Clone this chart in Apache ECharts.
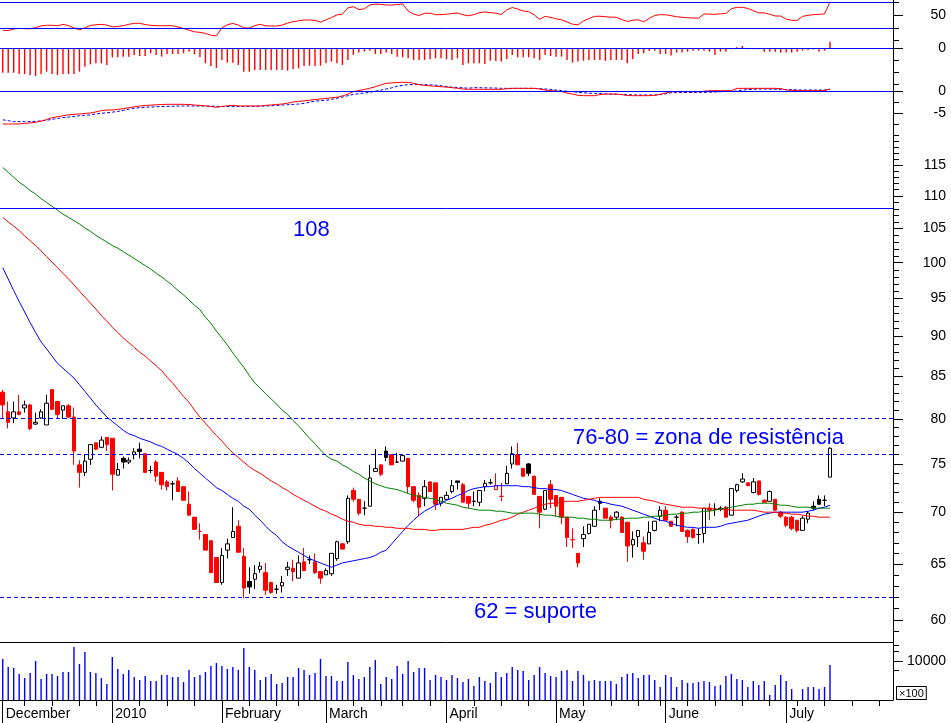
<!DOCTYPE html>
<html><head><meta charset="utf-8">
<script src="https://cdn.jsdelivr.net/npm/echarts@6/dist/echarts.min.js"></script>
<style>html,body{margin:0;padding:0;background:#fff}#c{width:951px;height:723px}</style>
</head><body><div id="c"></div>
<script>
// ---------- axis slots / tick labels ----------
const slotCount = 163;
const monthStartIdx = [0, 20, 40, 59, 81, 101, 121, 143];
const monthLabels = ['December', '2010', 'February', 'March', 'April', 'May', 'June', 'July'];
const weekTickIdx = [4, 9, 14, 17, 25, 30, 35, 45, 50, 54, 64, 69, 73, 78, 86, 91, 96, 106, 111, 116, 120, 125, 130, 135, 140, 145, 150, 155, 160];
const priceTicks = [60, 65, 70, 75, 80, 85, 90, 95, 100, 105, 110, 115];
const rsiLabels = [50], rsiMinor = [70, 30];
const histLabels = [0], histMinor = [1.38, -2, -4, -6];
const macdLabels = [0, -5], macdMinor = [-2.5, -7.5];
const volLabels = [10000], volMinor = [5000, 20000, 30000];
const rsiLevels = [70, 30];
const zeroLevel = [0];
const supportResistLevels = [62, 76, 80];
const targetLevel = [108];

// ---------- price data ----------
const open = [83.1,80.8,80.1,80.8,81.25,81.6,79.4,80.1,79.3,83.4,
82.0,81.0,81.5,80.2,74.9,74.1,75.5,77.3,76.8,77.9,
77.8,73.8,75.6,75.2,76.0,76.6,76.1,74.3,75.2,74.1,
73.1,72.9,73.2,72.6,70.8,69.5,68.1,67.8,67.2,65.6,
63.3,66.3,67.5,68.6,65.7,63.4,63.6,64.5,64.2,63.3,
62.7,63.0,64.5,64.6,63.7,65.2,65.4,65.2,64.3,64.0,
64.1,65.5,66.9,67.1,72.2,71.3,70.4,70.6,74.2,74.9,
76.4,76.0,75.2,75.3,75.6,72.6,71.7,71.4,73.1,73.0,
70.9,71.3,72.1,73.2,72.8,71.6,71.1,71.0,72.6,73.0,
72.3,71.6,72.9,75.0,76.0,74.5,75.0,73.7,71.6,70.3,
72.8,71.7,71.5,69.5,67.3,66.0,67.4,67.9,68.6,71.1,
70.4,69.5,69.5,69.5,69.0,66.8,67.6,67.0,66.9,68.2,
69.6,70.2,69.1,69.5,70.0,68.2,68.3,67.8,67.9,70.4,
70.3,70.4,70.5,69.7,72.2,73.1,73.0,72.0,73.2,71.2,
71.1,71.3,70.0,69.5,69.5,69.2,68.2,69.3,70.6,71.3,
71.2,73.6];
const high = [83.4,82.0,82.0,82.8,82.1,81.7,80.7,81.1,82.8,83.5,
82.1,81.5,81.7,81.3,75.4,76.0,77.1,77.3,78.0,77.9,
77.8,75.1,75.8,75.7,76.7,77.3,76.1,74.8,75.4,74.1,
73.3,73.2,73.6,72.6,72.1,69.5,68.9,67.8,67.2,65.6,
66.5,67.4,70.5,69.2,66.5,64.7,64.9,65.2,65.1,63.4,
63.1,63.9,65.2,65.4,65.8,66.5,65.8,66.0,64.3,64.6,
66.0,67.2,67.0,71.7,72.5,71.3,71.1,74.9,76.6,74.9,
76.9,76.0,76.2,76.0,75.6,72.6,72.0,73.3,73.1,73.0,
71.5,72.1,73.3,73.2,73.0,71.6,72.1,72.2,73.3,73.4,
74.0,73.0,74.8,76.9,77.3,74.6,75.1,73.7,71.6,72.2,
73.3,71.7,71.5,69.5,68.4,66.0,68.6,68.8,70.6,71.4,
70.4,69.7,70.1,69.6,69.0,68.1,68.2,67.6,69.1,69.1,
70.6,70.6,69.1,69.7,70.1,68.3,68.4,68.4,70.4,70.9,
70.9,70.6,70.6,72.4,72.9,74.0,73.0,73.5,73.2,71.3,
72.2,71.3,70.1,69.6,69.6,69.2,69.6,70.1,71.1,71.7,
71.7,76.8];
const low = [80.0,78.9,79.5,80.4,80.7,78.7,79.3,80.0,79.3,81.0,
80.1,80.0,80.1,74.9,72.5,73.7,74.9,76.5,76.8,76.4,
72.2,73.8,74.5,75.0,75.5,75.6,74.1,74.0,73.1,72.3,
72.2,71.2,72.1,71.2,69.7,68.3,67.3,66.3,64.2,63.3,
63.1,65.5,67.5,66.1,61.9,62.3,62.7,64.2,62.2,62.3,
62.3,62.4,63.9,63.4,63.7,64.4,65.0,64.1,63.2,64.0,
63.9,65.3,66.4,66.9,71.06,69.7,69.7,70.6,74.2,73.7,
75.3,74.9,75.1,75.3,71.9,71.0,69.6,70.6,72.1,70.2,
70.6,71.2,71.9,72.3,71.0,70.4,70.6,70.6,72.1,72.8,
72.3,71.1,72.9,74.5,74.9,73.6,73.7,71.8,68.4,70.2,
70.4,69.6,68.8,66.6,66.5,64.7,66.6,67.8,68.6,70.2,
69.4,68.4,69.2,68.0,65.2,65.6,66.6,65.4,66.9,68.1,
69.1,69.2,68.6,68.6,68.1,67.0,67.4,66.9,67.0,69.2,
69.6,70.1,69.5,69.7,72.0,73.0,72.7,71.9,71.7,71.0,
71.1,70.1,69.4,68.5,68.2,68.0,68.2,68.9,70.2,70.8,
70.6,73.6];
const close = [81.6,79.6,80.8,80.5,81.6,78.9,79.6,80.8,81.8,81.1,
80.5,81.5,80.2,76.4,74.1,75.3,77.1,76.6,77.6,77.1,
73.9,74.4,75.2,75.4,76.3,76.35,74.1,74.3,73.7,72.8,
72.6,72.9,72.1,71.2,69.7,68.3,68.1,66.3,64.2,63.3,
65.8,66.9,68.1,66.1,62.8,62.9,64.1,64.8,62.6,62.4,
62.7,63.3,64.7,64.3,65.1,64.4,65.4,64.2,63.7,64.4,
66.0,67.1,66.4,71.4,71.3,69.9,70.4,73.5,74.5,73.9,
75.7,74.9,75.2,75.9,72.6,71.2,70.5,72.6,72.1,70.8,
71.5,71.7,72.7,73.05,71.0,70.9,71.1,72.2,72.95,73.0,
72.7,71.6,74.0,76.1,74.9,73.7,74.0,71.8,70.0,72.2,
71.3,70.6,69.5,67.5,67.3,65.1,67.8,68.8,70.2,70.9,
69.4,69.2,70.0,68.0,66.7,67.3,68.2,66.2,68.0,69.1,
70.2,69.2,68.6,69.5,68.1,67.6,67.5,67.8,70.4,70.2,
70.3,70.3,69.5,72.4,72.8,73.4,72.7,73.1,71.8,71.0,
72.1,70.2,69.6,68.7,68.4,68.2,69.4,69.9,70.4,70.8,
71.2,76.7];
// volume, in hundreds of shares (null = no bar)
const volume = [11540,6510,6065,3950,2970,4240,10000,2765,3950,3950,
3425,4560,4560,27180,8070,19020,4560,4240,2970,1930,
13310,5650,3950,5260,3190,2574,3425,2400,2400,3680,
3680,3190,3190,2230,5260,3190,3680,4560,7000,8670,
7000,5650,6510,5260,25310,6510,5260,2574,3190,3950,
1930,2080,3190,3190,6065,5260,3680,4240,11540,3425,
3425,2400,2400,9310,3680,2765,3190,6510,10740,1930,
3190,2765,7000,3950,10000,4560,6065,6065,2574,3680,
3190,2574,3680,2970,2230,2765,1680,3190,2400,2080,
4560,3190,4240,6510,5260,4900,2574,3680,6510,4240,
3425,3190,4900,5260,2400,4900,3680,2400,2574,2400,
2400,2400,1930,3190,3950,4240,2970,3680,3680,2574,
1560,3680,3190,1560,2574,2080,2080,2230,2400,2230,
1680,1800,3425,3950,2765,2574,1560,2400,1800,2400,
880,1800,3680,2400,1350,null,1350,1560,1560,1350,
1560,7515];
// moving averages
const maBlue = [99.3,97.7,96.1,94.6,93.2,91.8,90.5,89.3,88.4,87.5,
86.6,86.0,85.4,84.8,84.0,83.2,82.4,81.6,80.9,80.2,
79.7,79.2,78.7,78.3,78.1,77.8,77.6,77.4,77.1,76.9,
76.6,76.3,76.0,75.6,75.1,74.5,74.0,73.5,73.0,72.5,
72.2,71.8,71.4,71.1,70.6,70.3,69.7,69.2,68.6,68.1,
67.7,67.1,66.7,66.4,66.1,65.8,65.5,65.3,65.1,64.9,
64.7,64.9,65.1,65.2,65.3,65.4,65.5,65.6,65.8,66.1,
66.3,66.9,67.5,68.1,68.7,69.2,69.7,70.1,70.4,70.7,
70.9,71.2,71.4,71.7,71.9,72.2,72.4,72.5,72.6,72.6,
72.7,72.7,72.7,72.7,72.7,72.6,72.6,72.5,72.4,72.4,
72.3,72.3,72.2,72.0,71.8,71.6,71.4,71.3,71.2,71.0,
70.96,70.8,70.7,70.6,70.4,70.2,70.0,69.8,69.6,69.4,
69.2,69.1,68.9,68.7,68.6,68.5,68.5,68.4,68.5,68.5,
68.5,68.6,68.8,68.9,69.0,69.1,69.2,69.4,69.6,69.8,
69.9,70.0,70.0,70.0,70.0,70.0,70.0,70.1,70.2,70.4,
70.5,70.7];
const maRed = [106.7,106.0,105.4,104.7,103.9,103.2,102.5,101.7,100.9,100.1,
99.3,98.5,97.7,96.9,96.0,95.2,94.4,93.6,92.7,92.0,
91.2,90.5,89.8,89.2,88.6,88.0,87.5,86.9,86.3,85.7,
84.9,84.2,83.4,82.6,81.9,81.0,80.2,79.5,78.8,78.1,
77.5,76.8,76.2,75.7,75.2,74.7,74.3,74.0,73.6,73.2,
72.9,72.5,72.2,71.8,71.5,71.2,70.9,70.6,70.3,70.1,
69.8,69.6,69.3,69.1,69.0,68.8,68.7,68.7,68.6,68.6,
68.5,68.5,68.4,68.4,68.4,68.3,68.3,68.3,68.2,68.2,
68.3,68.3,68.3,68.3,68.3,68.4,68.5,68.5,68.7,68.8,
69.0,69.2,69.3,69.5,69.8,70.0,70.2,70.4,70.6,70.8,
70.9,70.9,71.0,71.1,71.1,71.1,71.2,71.3,71.4,71.5,
71.5,71.5,71.5,71.5,71.5,71.5,71.5,71.3,71.2,71.1,
70.9,70.8,70.7,70.6,70.5,70.5,70.5,70.4,70.4,70.4,
70.3,70.3,70.3,70.2,70.2,70.2,70.2,70.2,70.1,70.0,
70.0,70.0,69.9,69.9,69.8,69.8,69.7,69.6,69.6,69.5,
69.5,69.5];
const maGreen = [114.6,113.8,113.0,112.2,111.6,110.9,110.3,109.6,109.0,108.4,
107.8,107.2,106.7,106.2,105.7,105.1,104.6,104.0,103.5,103.0,
102.5,102.1,101.6,101.1,100.6,100.1,99.6,99.1,98.5,98.0,
97.4,96.8,96.1,95.5,94.8,94.1,93.5,92.5,91.7,90.7,
89.8,88.9,87.9,87.0,86.1,85.1,84.2,83.6,82.9,82.3,
81.7,81.0,80.5,79.8,79.2,78.5,77.8,77.2,76.5,75.9,
75.5,75.3,74.9,74.6,74.2,73.9,73.5,73.2,72.9,72.7,
72.5,72.4,72.3,72.1,71.9,71.7,71.6,71.5,71.4,71.3,
71.1,70.9,70.8,70.7,70.5,70.4,70.3,70.2,70.2,70.2,
70.1,70.1,70.0,69.9,69.9,69.9,69.9,69.9,69.8,69.7,
69.7,69.6,69.5,69.5,69.5,69.4,69.4,69.3,69.3,69.2,
69.2,69.2,69.3,69.3,69.4,69.4,69.4,69.5,69.5,69.6,
69.6,69.7,69.8,69.8,69.9,69.9,70.0,70.0,70.1,70.1,
70.2,70.3,70.4,70.5,70.6,70.7,70.8,70.8,70.9,70.9,
70.9,70.8,70.7,70.7,70.6,70.5,70.5,70.5,70.4,70.4,
70.4,70.4];
// indicators
const rsi = [26.8,26.5,28.9,29.8,29.5,29.1,31.1,33.7,34.6,34.6,
33.8,36.0,34.2,30.5,27.8,30.6,34.5,35.4,36.0,34.9,
32.2,32.8,34.0,36.0,37.7,37.7,35.7,34.6,34.0,34.0,
34.0,34.0,32.0,29.8,27.1,24.6,23.8,22.2,19.4,18.2,
30.8,35.4,37.5,34.9,30.8,30.3,34.2,36.0,33.8,33.5,
33.5,34.9,38.0,40.2,41.5,42.8,42.8,42.2,39.5,42.9,
46.5,50.5,51.8,61.4,63.2,58.9,59.8,65.8,67.1,66.8,
65.8,65.8,66.5,67.4,56.6,51.7,49.7,53.1,53.2,50.9,
51.0,51.7,52.6,53.5,50.8,49.2,51.0,54.0,55.2,54.1,
53.2,51.2,58.2,62.0,59.5,56.6,55.7,50.6,44.0,48.2,
46.9,44.5,43.1,39.8,36.3,35.4,41.2,44.9,48.3,48.6,
47.7,47.2,46.9,43.4,40.5,42.3,43.1,40.0,45.2,49.7,
50.9,50.8,49.4,47.8,46.9,46.3,45.8,45.5,52.0,51.7,
51.5,52.2,52.9,60.0,62.3,62.3,60.5,57.2,53.8,53.8,
51.5,48.9,48.9,44.0,42.3,42.2,48.3,50.0,50.9,51.5,
52.0,70.5];
const macdHist = [-4.06,-4.06,-4.06,-4.28,-4.28,-4.44,-4.61,-4.28,-3.89,-4.28,
-4.44,-4.28,-4.28,-4.28,-3.89,-3.06,-2.67,-2.5,-2.5,-2.78,
-1.5,-1.5,-1.39,-1.39,-1.11,-1.28,-1.28,-0.83,-1.11,-1.39,
-0.94,-0.94,-0.94,-0.83,-0.56,-1.0,-1.5,-2.5,-2.94,-3.28,
-1.94,-2.39,-2.39,-2.78,-3.89,-3.89,-3.61,-3.61,-3.61,-3.61,
-3.61,-3.61,-3.72,-3.44,-3.33,-2.94,-2.89,-2.94,-2.89,-2.5,
-2.22,-2.5,-2.78,-1.94,-1.11,-0.72,-0.56,-0.39,-0.94,-0.94,
-0.72,-0.94,-1.39,-1.5,-1.67,-1.94,-1.94,-1.94,-1.83,-1.67,
-1.67,-1.83,-1.94,-1.67,-2.78,-2.5,-2.5,-2.5,-2.61,-2.06,
-2.11,-2.22,-1.78,-1.11,-1.5,-1.5,-1.5,-1.67,-1.94,-1.11,
-1.28,-1.39,-1.39,-1.94,-2.39,-2.22,-2.06,-1.94,-1.94,-1.94,
-2.11,-1.94,-1.94,-1.94,-2.5,-1.78,-0.94,-0.83,-0.44,-0.39,
-0.94,-0.94,-1.22,-0.72,-0.72,-0.56,-0.39,-0.39,-0.39,-0.56,
-1.11,-0.56,-0.56,-0.17,0.17,0.39,-0.17,-0.17,-0.17,-0.56,
-0.56,-0.56,-0.72,-0.72,-0.72,-0.56,-0.39,-0.28,-0.17,-0.56,
-0.39,1.11];
const macdLine = [-7.33,-7.33,-7.33,-7.33,-7.2,-7.1,-6.95,-6.7,-6.35,-5.95,
-5.7,-5.5,-5.3,-5.2,-5.1,-5.0,-4.88,-4.65,-4.35,-4.22,
-4.22,-4.1,-3.93,-3.7,-3.52,-3.34,-3.22,-3.14,-3.07,-3.0,
-2.96,-2.96,-2.96,-2.96,-3.0,-3.12,-3.2,-3.3,-3.45,-3.62,
-3.45,-3.28,-3.2,-3.3,-3.33,-3.33,-3.33,-3.33,-3.2,-3.1,
-3.0,-2.9,-2.7,-2.45,-2.3,-2.2,-2.05,-1.9,-1.78,-1.65,
-1.5,-1.4,-1.1,-0.7,-0.15,0.1,0.35,0.6,0.95,1.35,
1.7,1.8,1.9,1.93,1.93,1.7,1.4,1.25,1.15,1.05,
0.95,0.85,0.75,0.6,0.45,0.37,0.37,0.37,0.37,0.37,
0.37,0.37,0.5,0.59,0.59,0.59,0.59,0.59,0.45,0.2,
0.1,0.0,-0.12,-0.45,-0.67,-0.95,-1.04,-1.04,-1.04,-0.8,
-0.67,-0.67,-0.67,-0.8,-1.0,-1.04,-1.04,-1.04,-1.04,-0.95,
-0.75,-0.45,-0.15,-0.15,-0.15,-0.15,-0.15,-0.15,-0.05,0.07,
0.07,0.07,0.07,0.07,0.59,0.59,0.59,0.59,0.59,0.59,
0.59,0.59,0.55,0.22,0.15,0.07,0.07,0.07,0.07,0.07,
0.1,0.44];
const macdSignal = [-6.4,-6.6,-6.81,-6.81,-6.81,-6.81,-6.75,-6.65,-6.5,-6.3,
-6.1,-5.9,-5.8,-5.65,-5.5,-5.4,-5.33,-5.1,-4.95,-4.85,
-4.7,-4.55,-4.3,-4.05,-3.83,-3.7,-3.6,-3.55,-3.5,-3.45,
-3.42,-3.38,-3.35,-3.33,-3.33,-3.33,-3.33,-3.33,-3.36,-3.4,
-3.43,-3.46,-3.48,-3.45,-3.42,-3.4,-3.37,-3.35,-3.33,-3.28,
-3.2,-3.12,-3.05,-2.98,-2.9,-2.75,-2.5,-2.25,-2.15,-2.05,
-1.85,-1.6,-1.35,-1.05,-0.75,-0.6,-0.45,-0.3,-0.05,0.2,
0.45,0.7,1.05,1.25,1.4,1.48,1.45,1.4,1.35,1.3,
1.15,1.0,0.85,0.78,0.7,0.62,0.74,0.72,0.7,0.68,
0.65,0.6,0.59,0.59,0.59,0.59,0.59,0.59,0.52,0.44,
0.37,0.2,0.1,-0.05,-0.15,-0.3,-0.4,-0.5,-0.52,-0.58,
-0.64,-0.7,-0.74,-0.78,-0.82,-0.86,-0.89,-0.89,-0.89,-0.89,
-0.8,-0.6,-0.37,-0.36,-0.35,-0.34,-0.33,-0.31,-0.3,-0.27,
-0.22,-0.16,-0.12,-0.05,0.0,0.22,0.3,0.37,0.44,0.42,
0.4,0.38,0.37,0.33,0.3,0.25,0.22,0.22,0.22,0.22,
0.22,0.37];

// ---------- build chart ----------
const RED = '#ff0000', BLACK = '#000000', WHITE = '#ffffff', BLUE = '#0000ff', GREEN = '#008000';
const FONT = '"Liberation Sans", Arial, sans-serif';
const cats = Array.from({length: slotCount}, (_, i) => String(i));
const monthSet = new Set(monthStartIdx);
const weekSet = new Set(weekTickIdx);

const candleData = open.map((o, i) => {
  const c = close[i];
  const ref = i > 0 ? close[i - 1] : o;
  const edge = c < ref ? RED : BLACK;
  const fill = c >= o ? WHITE : edge;
  return {value: [o, c, low[i], high[i]],
    itemStyle: {color: fill, color0: fill, borderColor: edge, borderColor0: edge, borderColorDoji: edge, borderWidth: 1}};
});

const gridBase = {left: 0, right: 58, containLabel: false, outerBoundsMode: 'none', show: false};
// hidden category axes; indicator panels keep a blue zero-line colour in case the axis line is drawn on zero
const hiddenX = (g, lineColor) => ({type: 'category', gridIndex: g, data: cats, boundaryGap: true, show: false,
  axisLine: {show: false, onZero: true, lineStyle: {color: lineColor, width: 1}},
  axisTick: {show: false}, axisLabel: {show: false}, splitLine: {show: false}});

function majorY(g, type, min, max, labels, extra) {
  return Object.assign({
    type: type, gridIndex: g, position: 'right', min: min, max: max,
    splitLine: {show: false},
    axisLine: {show: true, onZero: false, lineStyle: {color: BLACK, width: 1}},
    axisTick: {show: true, inside: false, length: 10, customValues: labels, lineStyle: {color: BLACK}},
    axisLabel: {show: true, customValues: labels, align: 'right', margin: 53, color: BLACK, fontSize: 14, fontFamily: FONT,
      formatter: v => String(v)}
  }, extra || {});
}
function minorY(g, type, min, max, ticks, extra) {
  return Object.assign({
    type: type, gridIndex: g, position: 'right', min: min, max: max,
    splitLine: {show: false},
    axisLine: {show: false},
    axisTick: {show: true, inside: false, length: 6, customValues: ticks, lineStyle: {color: BLACK}},
    axisLabel: {show: false}
  }, extra || {});
}

const priceMinor = [];
for (let v = 59; v <= 120; v++) priceMinor.push(v);

const option = {
  animation: false,
  backgroundColor: WHITE,
  textStyle: {fontFamily: FONT},
  grid: [
    Object.assign({}, gridBase, {top: 0, height: 40}),
    Object.assign({}, gridBase, {top: 40, height: 48}),
    Object.assign({}, gridBase, {top: 75, height: 55}),
    Object.assign({}, gridBase, {top: 130, height: 512}),
    Object.assign({}, gridBase, {top: 642, height: 58})
  ],
  xAxis: [
    hiddenX(0, BLUE), hiddenX(1, BLUE), hiddenX(2, BLUE), hiddenX(3, BLACK),
    {type: 'category', gridIndex: 4, data: cats, boundaryGap: true, position: 'bottom',
     axisLine: {show: true, onZero: false, lineStyle: {color: BLACK, width: 1}},
     axisTick: {show: true, alignWithLabel: true, length: 23, interval: (i) => monthSet.has(i), lineStyle: {color: BLACK}},
     axisLabel: {show: true, interval: (i) => monthSet.has(i), formatter: (v, i) => monthLabels[monthStartIdx.indexOf(i)] || '',
       align: 'left', padding: [0, 0, 0, 3], margin: 7, color: BLACK, fontSize: 14, fontFamily: FONT}},
    {type: 'category', gridIndex: 4, data: cats, boundaryGap: true, position: 'bottom',
     axisLine: {show: false, onZero: false},
     axisTick: {show: true, alignWithLabel: true, length: 6, interval: (i) => weekSet.has(i), lineStyle: {color: BLACK}},
     axisLabel: {show: false}},
    {type: 'category', gridIndex: 4, data: cats, boundaryGap: true, position: 'top',
     axisLine: {show: true, onZero: false, lineStyle: {color: BLACK, width: 1}},
     axisTick: {show: false}, axisLabel: {show: false}}
  ],
  yAxis: [
    majorY(0, 'value', 12, 73.5, rsiLabels),                       // 0
    minorY(0, 'value', 12, 73.5, rsiMinor),                        // 1
    majorY(1, 'value', -6.617, 1.383, histLabels),                 // 2
    minorY(1, 'value', -6.617, 1.383, histMinor),                  // 3
    majorY(2, 'value', -8.667, 3.556, macdLabels),                 // 4
    minorY(2, 'value', -8.667, 3.556, macdMinor),                  // 5
    majorY(3, 'log', 58.14, 120.9, priceTicks, {logBase: 10}),     // 6
    minorY(3, 'log', 58.14, 120.9, priceMinor, {logBase: 10}),     // 7
    majorY(4, 'log', 617, 38850, volLabels, {logBase: 10}),        // 8
    minorY(4, 'log', 617, 38850, volMinor, {logBase: 10})          // 9
  ],
  series: [
    {name: 'RSI', type: 'line', xAxisIndex: 0, yAxisIndex: 0, data: rsi, symbol: 'none', smooth: false,
     lineStyle: {color: RED, width: 1}, itemStyle: {color: RED}, z: 3},
    {name: 'MACD hist', type: 'bar', xAxisIndex: 1, yAxisIndex: 2, data: macdHist, barWidth: 1.4,
     itemStyle: {color: RED}, z: 3},
    {name: 'Signal', type: 'line', xAxisIndex: 2, yAxisIndex: 4, data: macdSignal, symbol: 'none',
     lineStyle: {color: BLUE, width: 1, type: [3, 2]}, itemStyle: {color: BLUE}, z: 3},
    {name: 'MACD', type: 'line', xAxisIndex: 2, yAxisIndex: 4, data: macdLine, symbol: 'none',
     lineStyle: {color: RED, width: 1}, itemStyle: {color: RED}, z: 4},
    {name: 'Price', type: 'candlestick', xAxisIndex: 3, yAxisIndex: 6, data: candleData, barWidth: 4, z: 2},
    {name: 'MA short', type: 'line', xAxisIndex: 3, yAxisIndex: 6, data: maBlue, symbol: 'none',
     lineStyle: {color: BLUE, width: 1}, itemStyle: {color: BLUE}, z: 5},
    {name: 'MA medium', type: 'line', xAxisIndex: 3, yAxisIndex: 6, data: maRed, symbol: 'none',
     lineStyle: {color: RED, width: 1}, itemStyle: {color: RED}, z: 5},
    {name: 'MA long', type: 'line', xAxisIndex: 3, yAxisIndex: 6, data: maGreen, symbol: 'none',
     lineStyle: {color: GREEN, width: 1}, itemStyle: {color: GREEN}, z: 5},
    {name: 'Volume', type: 'bar', xAxisIndex: 4, yAxisIndex: 8, data: volume, barWidth: 1.4,
     itemStyle: {color: BLUE}, z: 3}
  ]
};

const textMarks = [
  {type: 'text', x: 293, y: 229.5, silent: true, z: 120,
   style: {text: '108', font: '22px ' + FONT, fill: BLUE, align: 'left', verticalAlign: 'middle'}},
  {type: 'text', x: 573, y: 438, silent: true, z: 120,
   style: {text: '76-80 = zona de resistência', font: '22px ' + FONT, fill: BLUE, align: 'left', verticalAlign: 'middle'}},
  {type: 'text', x: 474, y: 611.5, silent: true, z: 120,
   style: {text: '62 = suporte', font: '22px ' + FONT, fill: BLUE, align: 'left', verticalAlign: 'middle'}},
  {type: 'text', x: 897, y: 687, silent: true, z: 120,
   style: {text: '×100', font: '11px ' + FONT, fill: BLACK, backgroundColor: WHITE,
     borderColor: BLACK, borderWidth: 1, padding: [1, 2, 0, 2]}}
];

const chart = echarts.init(document.getElementById('c'), null, {renderer: 'canvas', width: 951, height: 723});
chart.setOption(option);

// horizontal reference levels, positioned through the library's own axis scales
const plotRight = 951 - 58;
function levelLines(yAxisIndex, values, dashed) {
  return values.map(v => {
    const y = Math.floor(chart.convertToPixel({yAxisIndex: yAxisIndex}, v)) + 0.5;
    return {type: 'line', silent: true, z: 100,
      shape: {x1: 0, y1: y, x2: plotRight, y2: y},
      style: {stroke: BLUE, lineWidth: 1, lineDash: dashed ? [4, 3] : null}};
  });
}
chart.setOption({graphic: [
  ...levelLines(0, rsiLevels, false),
  ...levelLines(2, zeroLevel, false),
  ...levelLines(4, zeroLevel, false),
  ...levelLines(6, targetLevel, false),
  ...levelLines(6, supportResistLevels, true),
  ...textMarks
]});
</script>
</body></html>
